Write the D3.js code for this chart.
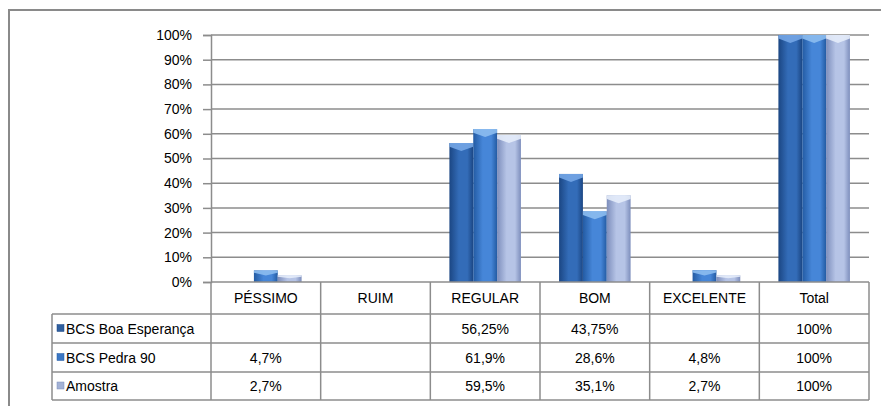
<!DOCTYPE html>
<html>
<head>
<meta charset="utf-8">
<script src="https://cdn.jsdelivr.net/npm/d3@7"></script>
<style>
  html, body { margin: 0; padding: 0; background: #fff; }
  svg { display: block; font-family: "Liberation Sans", Arial, sans-serif; }
</style>
</head>
<body>
<svg id="chart" width="881" height="406"></svg>
<script>
// Categories (table columns) and series values (percent); null = empty cell
const categories = ["PÉSSIMO", "RUIM", "REGULAR", "BOM", "EXCELENTE", "Total"];
const seriesNames = ["BCS Boa Esperança", "BCS Pedra 90", "Amostra"];
const boaEsperanca = [null, null, 56.25, 43.75, null, 100];
const pedra90 = [4.7, null, 61.9, 28.6, 4.8, 100];
const amostra = [2.7, null, 59.5, 35.1, 2.7, 100];
const yTicks = [0, 10, 20, 30, 40, 50, 60, 70, 80, 90, 100];

const series = [boaEsperanca, pedra90, amostra];

// Per-series bar shading: edge, centre, cap, legend key
const palettes = [
  { edge: "#1b4683", mid: "#336cb8", cap: "#74a6e6", key: "#2f5f9f" },
  { edge: "#235ba3", mid: "#4686d8", cap: "#8cbcf0", key: "#3b77c4" },
  { edge: "#7d8ebc", mid: "#b6c4e6", cap: "#e4ecfa", key: "#a3b2d6" }
];

const svg = d3.select("#chart");
const gridColor = "#8c8c8c";
const fontSize = 14;

const plot = { left: 211, right: 869, top: 35, bottom: 282 };
const table = { legendLeft: 52, headerTop: 282, rowTops: [314, 343, 372], bottom: 400 };

const x = d3.scaleBand().domain(categories).range([plot.left, plot.right]);
const x1 = d3.scaleBand().domain(d3.range(series.length))
  .range([0, x.bandwidth()]).paddingOuter(0.8).paddingInner(0);
const y = d3.scaleLinear().domain([0, 100]).range([plot.bottom, plot.top]);

const fmt = v => v == null ? "" : String(v).replace(".", ",") + "%";

// Outer frame (left and top edges visible)
svg.append("path")
  .attr("d", "M9,406 V10 H881")
  .attr("fill", "none").attr("stroke", "#8a8a8a").attr("stroke-width", 2);

// Gradients
const defs = svg.append("defs");
palettes.forEach((p, i) => {
  const g = defs.append("linearGradient").attr("id", "bar" + i)
    .attr("x1", "0%").attr("x2", "100%").attr("y1", "0%").attr("y2", "0%");
  g.append("stop").attr("offset", "0%").attr("stop-color", p.edge);
  g.append("stop").attr("offset", "40%").attr("stop-color", p.mid);
  g.append("stop").attr("offset", "75%").attr("stop-color", p.mid);
  g.append("stop").attr("offset", "100%").attr("stop-color", p.edge);
});

// Gridlines
svg.append("g").selectAll("line").data(yTicks.filter(t => t > 0)).join("line")
  .attr("x1", plot.left).attr("x2", plot.right)
  .attr("y1", d => y(d)).attr("y2", d => y(d))
  .attr("stroke", gridColor).attr("stroke-width", 1.5);

// Y axis
const yAxis = d3.axisLeft(y).tickValues(yTicks).tickFormat(d => d + "%")
  .tickSize(8).tickPadding(11);
const ya = svg.append("g").attr("transform", `translate(${plot.left},0)`).call(yAxis);
ya.select(".domain").attr("stroke", gridColor).attr("stroke-width", 1.5);
ya.selectAll(".tick line").attr("stroke", gridColor).attr("stroke-width", 1.5);
ya.selectAll(".tick text").attr("font-size", fontSize).attr("fill", "#000")
  .attr("font-family", "Liberation Sans, Arial, sans-serif");

// Bars
const bw = x1.bandwidth();
series.forEach((vals, si) => {
  const p = palettes[si];
  const data = categories.map((c, ci) => ({ c, v: vals[ci] })).filter(d => d.v != null);
  const g = svg.append("g");
  g.selectAll("rect").data(data).join("rect")
    .attr("x", d => x(d.c) + x1(si))
    .attr("y", d => y(d.v))
    .attr("width", bw)
    .attr("height", d => y(0) - y(d.v))
    .attr("fill", `url(#bar${si})`);
  // Chevron-shaped top cap
  g.selectAll("path").data(data).join("path")
    .attr("d", d => {
      const x0 = x(d.c) + x1(si), t = y(d.v);
      const h = Math.min(8, (y(0) - t) * 0.45);
      return `M${x0},${t} H${x0 + bw} V${t + h * 0.45} L${x0 + bw / 2},${t + h} L${x0},${t + h * 0.45} Z`;
    })
    .attr("fill", p.cap).attr("opacity", 0.9);
});

// Data table
const tg = svg.append("g").attr("stroke", gridColor).attr("stroke-width", 1.5).attr("fill", "none");
tg.append("line").attr("x1", plot.left).attr("x2", plot.right)
  .attr("y1", table.headerTop).attr("y2", table.headerTop);
table.rowTops.concat([table.bottom]).forEach(yy => {
  tg.append("line").attr("x1", table.legendLeft).attr("x2", plot.right)
    .attr("y1", yy).attr("y2", yy);
});
const colEdges = categories.map(c => x(c)).concat([plot.right]);
colEdges.forEach(xx => {
  tg.append("line").attr("x1", xx).attr("x2", xx)
    .attr("y1", table.headerTop).attr("y2", table.bottom);
});
tg.append("line").attr("x1", table.legendLeft).attr("x2", table.legendLeft)
  .attr("y1", table.rowTops[0]).attr("y2", table.bottom);

// Header labels
svg.append("g").selectAll("text").data(categories).join("text")
  .attr("x", d => x(d) + x.bandwidth() / 2)
  .attr("y", (table.headerTop + table.rowTops[0]) / 2 + 5)
  .attr("text-anchor", "middle").attr("font-size", fontSize).attr("fill", "#000")
  .text(d => d);

// Rows: legend key, series name, values
const rowBottoms = table.rowTops.slice(1).concat([table.bottom]);
series.forEach((vals, si) => {
  const mid = (table.rowTops[si] + rowBottoms[si]) / 2;
  const p = palettes[si];
  svg.append("rect").attr("x", 57).attr("y", mid - 4).attr("width", 7).attr("height", 7)
    .attr("fill", p.key).attr("stroke", p.edge).attr("stroke-width", 0.5);
  svg.append("text").attr("x", 66).attr("y", mid + 5)
    .attr("font-size", fontSize).attr("fill", "#000").text(seriesNames[si]);
  svg.append("g").selectAll("text").data(categories.map((c, ci) => ({ c, v: vals[ci] }))).join("text")
    .attr("x", d => x(d.c) + x.bandwidth() / 2)
    .attr("y", mid + 5)
    .attr("text-anchor", "middle").attr("font-size", fontSize).attr("fill", "#000")
    .text(d => fmt(d.v));
});
</script>
</body>
</html>
